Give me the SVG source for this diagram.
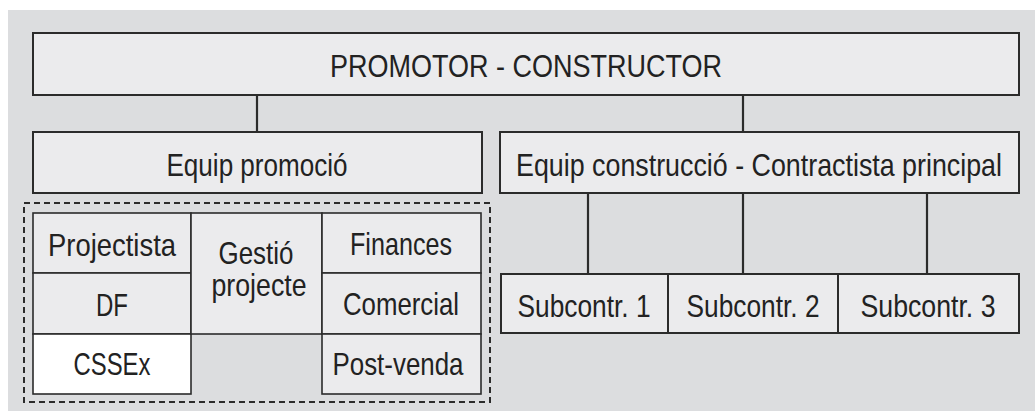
<svg xmlns="http://www.w3.org/2000/svg" width="1035" height="411" viewBox="0 0 1035 411">
<style>
.bg{fill:#dcdddf}
.box{fill:#ebebed;stroke:#2b2b2b;stroke-width:2}
.cell{fill:#ebebed;stroke:#2b2b2b;stroke-width:1.6}
.white{fill:#ffffff;stroke:#2b2b2b;stroke-width:1.6}
.conn{stroke:#2b2b2b;stroke-width:2.2;fill:none}
.dash{fill:none;stroke:#2b2b2b;stroke-width:2;stroke-dasharray:6 4}
text{font-family:"Liberation Sans",Arial,sans-serif;font-size:32px;fill:#222222;text-anchor:middle}
</style>
<rect x="0" y="0" width="1035" height="411" fill="#ffffff"/>
<rect class="bg" x="8" y="10" width="1027" height="401"/>
<g id="connectors">
<line class="conn" x1="257" y1="95" x2="257" y2="132"/>
<line class="conn" x1="743" y1="95" x2="743" y2="132"/>
<line class="conn" x1="588" y1="193" x2="588" y2="274"/>
<line class="conn" x1="743" y1="193" x2="743" y2="274"/>
<line class="conn" x1="927" y1="193" x2="927" y2="274"/>
</g>
<g id="promotor">
<rect class="box" x="33" y="33" width="986" height="62"/>
<text x="526" y="77" textLength="392" lengthAdjust="spacingAndGlyphs">PROMOTOR - CONSTRUCTOR</text>
</g>
<g id="equip-promocio">
<rect class="box" x="33" y="132" width="449" height="61"/>
<text x="257" y="176" textLength="181" lengthAdjust="spacingAndGlyphs">Equip promoció</text>
</g>
<g id="equip-construccio">
<rect class="box" x="500" y="132" width="519" height="61"/>
<text x="759" y="176" textLength="486" lengthAdjust="spacingAndGlyphs">Equip construcció - Contractista principal</text>
</g>
<g id="promocio-group">
<rect class="dash" x="24" y="203" width="466" height="199"/>
</g>
<g id="projectista">
<rect class="cell" x="33" y="213" width="158" height="60"/>
<text x="112" y="256" textLength="128" lengthAdjust="spacingAndGlyphs">Projectista</text>
</g>
<g id="df">
<rect class="cell" x="33" y="273" width="158" height="61"/>
<text x="112" y="316" textLength="32" lengthAdjust="spacingAndGlyphs">DF</text>
</g>
<g id="cssex">
<rect class="white" x="33" y="334" width="158" height="60"/>
<text x="112" y="375" textLength="77" lengthAdjust="spacingAndGlyphs">CSSEx</text>
</g>
<g id="gestio">
<rect class="cell" x="191" y="213" width="131" height="121"/>
<text x="256" y="264" textLength="75" lengthAdjust="spacingAndGlyphs">Gestió</text>
<text x="259" y="296" textLength="95" lengthAdjust="spacingAndGlyphs">projecte</text>
</g>
<g id="finances">
<rect class="cell" x="322" y="213" width="159" height="60"/>
<text x="401" y="255" textLength="102" lengthAdjust="spacingAndGlyphs">Finances</text>
</g>
<g id="comercial">
<rect class="cell" x="322" y="273" width="159" height="61"/>
<text x="401" y="315" textLength="116" lengthAdjust="spacingAndGlyphs">Comercial</text>
</g>
<g id="postvenda">
<rect class="cell" x="322" y="334" width="159" height="60"/>
<text x="398" y="375" textLength="131" lengthAdjust="spacingAndGlyphs">Post-venda</text>
</g>
<g id="subcontr1">
<rect class="box" x="501" y="274" width="167" height="59"/>
<text x="584" y="317" textLength="133" lengthAdjust="spacingAndGlyphs">Subcontr. 1</text>
</g>
<g id="subcontr2">
<rect class="box" x="668" y="274" width="170" height="59"/>
<text x="753" y="317" textLength="133" lengthAdjust="spacingAndGlyphs">Subcontr. 2</text>
</g>
<g id="subcontr3">
<rect class="box" x="838" y="274" width="181" height="59"/>
<text x="928" y="317" textLength="135" lengthAdjust="spacingAndGlyphs">Subcontr. 3</text>
</g>
</svg>
